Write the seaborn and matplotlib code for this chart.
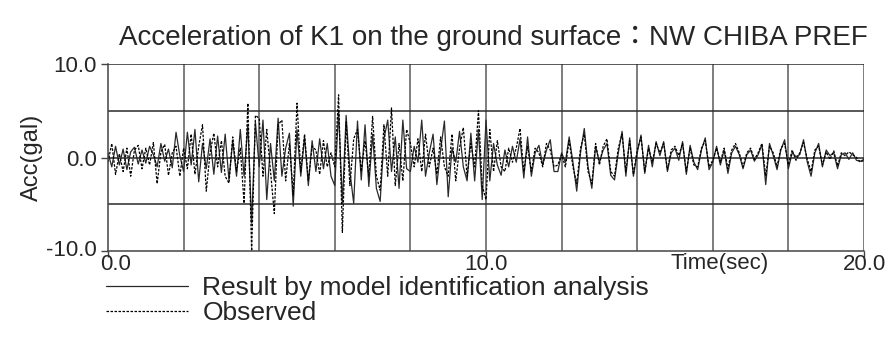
import numpy as np
import pandas as pd
import matplotlib
matplotlib.use("Agg")
import matplotlib.pyplot as plt
import matplotlib.transforms as mtransforms
import seaborn as sns

SAMPLE_STEP = 0.1
model_acc = [
    0.5, -1.0, 1.2, -0.8, 0.9, -1.3, 0.6, 1.1, -0.7, 0.8,
    -0.6, 1.2, 0.3, -1.0, 1.5, -0.4, 0.9, -1.1, 2.7, 0.2,
    -1.5, 2.7, -0.8, 3.0, -2.6, 1.5, -1.2, 2.0, -1.8, 2.3,
    -1.6, 2.5, -2.4, 1.8, -2.0, 3.0, -2.0, 3.5, -7.0, 3.8,
    -1.0, 4.0, -4.5, 1.5, -2.5, 4.2, -2.0, 1.0, 2.6, -5.2,
    3.0, -2.0, 2.2, -3.0, 1.8, -1.5, 2.0, -1.2, 1.5, -2.0,
    -3.0, 5.0, -4.9, 4.5, -1.5, -4.9, 3.9, -2.4, 3.5, -3.1,
    2.5, -3.3, -4.7, 2.0, 4.0, -1.5, 2.2, -3.3, 4.0, -1.2,
    -1.5, 1.2, -0.5, 4.0, -2.0, 0.5, 2.5, -2.9, 0.8, 3.9,
    -4.2, 1.0, -0.5, 2.8, -1.0, -2.5, 2.6, -2.5, 3.0, -4.5,
    4.0, -2.5, 1.5, -0.8, -1.9, 0.8, -1.0, 1.2, -0.5, 2.0,
    -2.2, 2.2, -2.0, 0.5, 1.3, -0.8, 0.8, 1.9, -1.5, -1.5,
    0.5, -0.5, 2.2, -0.5, -3.6, 0.5, 3.1, -1.0, -3.3, 1.2,
    -0.5, 0.8, 1.5, -1.9, -2.4, 0.5, 2.8, -2.0, 2.1, -2.0,
    0.5, 2.4, -1.7, 1.3, -1.0, 1.7, 0.2, 1.7, -1.5, 0.5,
    1.0, -0.3, 1.7, -1.8, 1.3, -0.5, -1.3, 0.8, 2.1, -1.3,
    -0.5, 1.2, -0.8, 0.8, -1.7, 0.5, 1.2, 0.3, -1.2, 0.3,
    0.8, -0.4, 0.3, 1.4, -2.9, 1.5, 0.2, -1.3, 0.8, 1.9,
    -1.2, 0.5, 0.1, 0.3, 1.9, -0.5, -2.0, 0.5, 1.5, -1.0,
    0.8, 0.2, 0.5, -1.2, 0.3, 0.5, -0.2, 0.5, -0.3, -0.4,
    -0.2,
]
observed_acc = [
    -0.5, 1.5, -1.8, 0.4, -1.5, 1.0, -2.0, 0.8, 1.3, -1.2,
    1.0, -0.8, 1.6, -2.8, 0.6, 1.4, -1.9, 0.5, 1.2, -2.0,
    1.0, -1.2, 2.5, -1.8, 1.2, 3.5, -3.6, 0.5, 2.6, -1.0,
    1.8, -2.0, -2.75, 2.2, -1.5, 1.0, -4.9, 5.8, -10.0, 4.5,
    4.2, -2.0, 3.0, -1.5, -6.0, 3.5, 4.0, -2.5, 1.5, -4.0,
    5.8, -1.5, 2.5, -2.5, 1.2, 0.8, -1.8, 1.8, -1.0, 0.5,
    -1.0, 6.7, -8.0, 3.8, -3.0, 2.0, 3.0, -1.5, 1.8, -2.0,
    4.4, -2.0, -3.5, 3.5, -2.0, 5.3, -3.0, 1.5, -2.5, 3.0,
    1.5, -1.0, 2.0, -1.5, 2.5, -1.0, 1.0, -1.8, 2.2, -1.0,
    -2.0, 2.5, -2.5, 1.0, 3.2, -2.0, 1.5, -1.0, 5.0, -3.0,
    -4.5, 3.0, -1.5, 1.8, -1.0, -1.5, 1.0, -0.5, 1.0, 3.1,
    -1.5, 1.2, -1.5, 1.0, 0.5, -1.0, 1.5, 0.8, -1.0, -0.8,
    0.3, -1.0, 1.8, -1.0, -2.8, 1.0, 2.5, -1.5, -2.8, 1.5,
    -0.8, 1.2, 2.0, -1.5, -2.0, 1.0, 2.5, -1.5, 1.8, -1.8,
    0.8, 2.2, -1.5, 1.0, -0.5, 1.5, 0.5, 1.5, -1.3, 0.8,
    1.2, 0.2, 1.5, -1.5, 1.0, -0.8, -1.0, 1.0, 1.8, -1.0,
    -0.3, 1.0, -0.5, 1.0, -1.2, 0.8, 1.5, 0.5, -1.0, 0.5,
    1.0, -0.2, 0.5, 1.5, -2.0, 1.2, 0.5, -1.0, 1.0, 1.5,
    -0.8, 0.8, -0.3, 0.5, 1.6, -0.2, -1.5, 0.8, 1.2, -0.8,
    0.6, -0.2, 0.7, -0.9, 0.5, 0.2, 0.6, 0.3, 0.0, -0.5,
    -0.3,
]
time_sec = np.arange(len(model_acc)) * SAMPLE_STEP

x_ticks = [0.0, 10.0, 20.0]
x_tick_labels = ["0.0", "10.0", "20.0"]
y_ticks = [-10.0, 0.0, 10.0]
y_tick_labels = ["-10.0", "0.0", "10.0"]
title = "Acceleration of K1 on the ground surface\uff1aNW CHIBA PREF"
series_names = ["Result by model identification analysis", "Observed"]

# ---- plotting ----
sns.set_theme(style="white")
FONT = ["Liberation Sans", "Noto Sans CJK JP", "DejaVu Sans"]
plt.rcParams["font.family"] = FONT
FS_TICK = 16
FS_TITLE = 20
FS_LEG = 19

df = pd.DataFrame({"t": time_sec, "model": model_acc, "obs": observed_acc})

fig = plt.figure(figsize=(8.87, 3.52), dpi=100)
ax = fig.add_axes([108 / 887, 1 - 251 / 352, (864 - 108) / 887, (251 - 64) / 352])

sns.lineplot(data=df, x="t", y="model", ax=ax, color="#2a2a2a", lw=0.9,
             label=series_names[0])
sns.lineplot(data=df, x="t", y="obs", ax=ax, color="black", lw=0.9,
             dashes=False, label=series_names[1])
ax.lines[1].set_dashes((2.0, 1.2))

ax.set_xlim(0, 20)
ax.set_ylim(-10, 10)
for gx in np.arange(2, 21, 2):
    ax.axvline(gx, color="#5a5a5a", lw=1.1, zorder=0)
for gy in [-5, 0, 5, 10]:
    ax.axhline(gy, color="#2a2a2a", lw=1.1, zorder=0)

for s in ["top", "right"]:
    ax.spines[s].set_visible(False)
for s in ["left", "bottom"]:
    ax.spines[s].set_color("#444444")
    ax.spines[s].set_linewidth(1.1)

ax.set_xticks(x_ticks)
ax.set_xticklabels(x_tick_labels, fontsize=FS_TICK)
ax.set_yticks(y_ticks)
ax.set_yticklabels(y_tick_labels, fontsize=FS_TICK)
ax.tick_params(axis="y", direction="out", length=5, width=1, color="#444444",
               pad=3, left=True)
ax.tick_params(axis="x", direction="out", length=4, width=1, color="#444444",
               pad=-2, bottom=True)
ax.set_xlabel("")
ax.set_ylabel("Acc(gal)", fontsize=FS_TICK + 1, labelpad=2)

# nudge the "0.0" time label right (as in the reference) so it clears "-10.0"
first = ax.get_xticklabels()[0]
first.set_transform(first.get_transform() +
                    mtransforms.ScaledTranslation(8 / 100, 0, fig.dpi_scale_trans))
# nudge "-10.0" slightly up
ylow = ax.get_yticklabels()[0]
ylow.set_transform(ylow.get_transform() +
                   mtransforms.ScaledTranslation(0, 3 / 100, fig.dpi_scale_trans))

fig.text(720 / 887, 1 - 263 / 352, "Time(sec)", fontsize=FS_TICK, ha="center", va="center")
fig.text(493 / 887, 1 - 38 / 352, title, fontsize=FS_TITLE, ha="center", va="center")

leg = ax.legend(loc="upper left", bbox_to_anchor=(106 / 887, 1 - 276 / 352),
                bbox_transform=fig.transFigure, frameon=False, fontsize=FS_LEG,
                handlelength=3.1, handletextpad=0.55, labelspacing=0.05,
                borderaxespad=0, borderpad=0)

fig.savefig("out.png", dpi=100)
